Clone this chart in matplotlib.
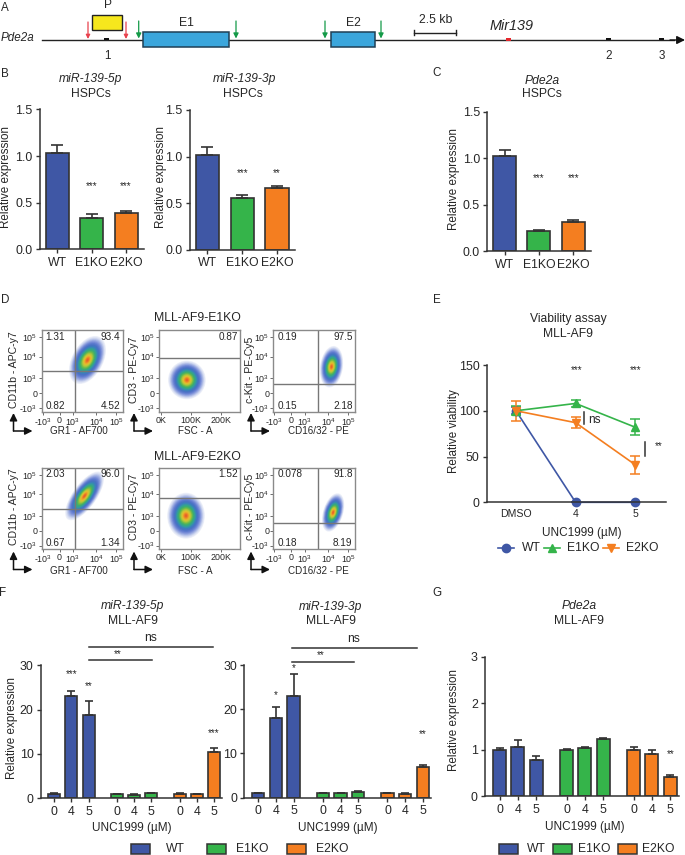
############ Packages ############
import numpy as np
import matplotlib
matplotlib.use("Agg")
import matplotlib.pyplot as plt
from matplotlib.colors import LinearSegmentedColormap
from matplotlib.patches import Ellipse, Rectangle

plt.rcParams['font.family'] = ['Liberation Sans', 'DejaVu Sans']
plt.rcParams['mathtext.fontset'] = 'custom'
plt.rcParams['mathtext.rm'] = 'Liberation Sans'
plt.rcParams['mathtext.default'] = 'regular'

############ Data ############
genotypes = ["WT", "E1KO", "E2KO"]

# panels B and C, HSPCs
b5p_mean = [1.03, 0.34, 0.39]
b5p_err = [0.085, 0.045, 0.025]
b3p_mean = [1.02, 0.56, 0.66]
b3p_err = [0.08, 0.025, 0.03]
c_mean = [1.02, 0.215, 0.32]
c_err = [0.07, 0.01, 0.02]

# panel E, viability
e_doses = ["DMSO", "4", "5"]
e_wt = [100, 0, 0]
e_wt_err = [4, 0, 0]
e_e1 = [100, 108, 82]
e_e1_err = [5, 4, 9]
e_e2 = [100, 87, 41]
e_e2_err = [11, 6, 10]

# panels F and G, WT / E1KO / E2KO at 0, 4, 5 uM
doses = ["0", "4", "5"] * 3
f5p_mean = [1, 23, 18.7, 1, 0.85, 1.1, 1, 0.9, 10.4]
f5p_err = [0.1, 1.3, 3.2, 0.05, 0.05, 0.1, 0.1, 0.05, 0.9]
f3p_mean = [1, 18, 23, 1, 1, 1.3, 1, 0.9, 7]
f3p_err = [0.1, 2.6, 5, 0.1, 0.05, 0.15, 0.1, 0.05, 0.3]
g_mean = [1, 1.06, 0.77, 1, 1.04, 1.24, 1, 0.91, 0.41]
g_err = [0.03, 0.15, 0.09, 0.01, 0.02, 0.02, 0.06, 0.08, 0.05]

# panel D, flow plots: x/y cloud centre, extent and tilt
gate_names = [("CD11b - APC-y7", "GR1 - AF700"), ("CD3 - PE-Cy7", "FSC - A"),
              ("c-Kit - PE-Cy5", "CD16/32 - PE")]
row1_labels = [["1.31", "93.4", "0.82", "4.52"], ["", "0.87", "", ""], ["0.19", "97.5", "0.15", "2.18"]]
row2_labels = [["2.03", "96.0", "0.67", "1.34"], ["", "1.52", "", ""], ["0.078", "91.8", "0.18", "8.19"]]
row1_clouds = [(2.09, 2.22, 3.2, 2.0, 55), (86, 0.89, 112, 2.3, 0), (2.98, 1.77, 2.5, 1.5, 80)]
row2_clouds = [(1.87, 2.33, 3.6, 1.5, 50), (83, 1.0, 112, 2.75, 0), (3.1, 1.22, 2.4, 1.3, 70)]
flow_gates_row1 = [(1.17, 1.5), (None, 2.35), (1.95, 0.62)]
flow_gates_row2 = [(1.17, 1.45), (None, 2.22), (1.95, 0.51)]

biex_x_ticks = [-1.25, 0, 1, 2.74, 4.23]
biex_y_ticks = [-1, 0, 1, 2.45, 3.75]
biex_labels = ["-$10^3$", "0", "$10^3$", "$10^4$", "$10^5$"]
fsc_ticks = [0, 100, 200]
fsc_labels = ["0K", "100K", "200K"]

############ Style ############
BLUE = "#3F57A5"
GREEN = "#35B44A"
ORANGE = "#F47E20"
EDGE = "#333333"
TXT = "#262626"
colors3 = [BLUE, GREEN, ORANGE]
colors9 = [BLUE] * 3 + [GREEN] * 3 + [ORANGE] * 3
group_x = [0, 1, 2, 3.65, 4.65, 5.65, 7.3, 8.3, 9.3]
flow_cmap = LinearSegmentedColormap.from_list(
    "flow", ["#eef1fa", "#d3daf1", "#a9b7e6", "#7f93da", "#5f7bcf", "#4a72c4", "#3a80bc",
             "#33a09a", "#3aad70", "#6cba4a", "#b4c73a", "#e6c02e", "#ef8f28", "#e8622a"])
W, H = 685, 855

fig = plt.figure(figsize=(W / 100, H / 100), dpi=100)
over = fig.add_axes([0, 0, 1, 1], zorder=10)
over.set_xlim(0, W)
over.set_ylim(H, 0)
over.axis("off")
over.patch.set_alpha(0)


def px_axes(left, top, right, bottom):
    return fig.add_axes([left / W, 1 - bottom / H, (right - left) / W, (bottom - top) / H])


def put(x, y, s, size=8.7, **kw):
    kw.setdefault("ha", "center")
    kw.setdefault("va", "center")
    kw.setdefault("color", TXT)
    over.text(x, y, s, fontsize=size, **kw)


def set_xlab(ax, s, xy, size=8.5):
    ax.set_xlabel(s, fontsize=size, color=TXT, va="center")
    ax.xaxis.set_label_coords(xy[0], xy[1], transform=over.transData)


def set_ylab(ax, s, xy, size=8.4):
    ax.set_ylabel(s, fontsize=size, color=TXT, va="center")
    ax.yaxis.set_label_coords(xy[0], xy[1], transform=over.transData)


def clean(ax):
    ax.spines["top"].set_visible(False)
    ax.spines["right"].set_visible(False)
    for s in ["left", "bottom"]:
        ax.spines[s].set_linewidth(1.1)
        ax.spines[s].set_color(EDGE)
    ax.tick_params(length=3.2, width=1.0, color=EDGE, labelsize=8.9, labelcolor=TXT, pad=2)


def star(ax, x, y, s):
    ax.text(x, y, s, ha="center", va="center", fontsize=7, color=TXT, clip_on=False)


def bars3(box, means, errs, ymax_ticks, ylabel_xy, stars):
    ax = px_axes(*box)
    ax.bar(range(3), means, width=0.67, color=colors3, edgecolor=EDGE, linewidth=1.2)
    ax.errorbar(range(3), means, yerr=[np.zeros(3), errs], fmt="none", ecolor=EDGE, elinewidth=1.2, capsize=4.2, capthick=1.2)
    ax.set_xlim(-0.5, 2.52)
    ax.set_ylim(0, 1.5)
    ax.set_yticks(ymax_ticks)
    ax.set_yticklabels(["%.1f" % v for v in ymax_ticks])
    ax.set_xticks(range(3))
    ax.set_xticklabels(genotypes)
    clean(ax)
    ax.tick_params(axis="x", labelsize=8.8)
    set_ylab(ax, "Relative expression", ylabel_xy)
    for x, y, s in stars:
        star(ax, x, y, s)
    return ax


def bars9(box, means, errs, ylim, yticks, ylabel_xy, xlabel_xy, stars):
    ax = px_axes(*box)
    ax.bar(group_x, means, width=0.7, color=colors9, edgecolor=EDGE, linewidth=1.2)
    ax.errorbar(group_x, means, yerr=[np.zeros(9), errs], fmt="none", ecolor=EDGE, elinewidth=1.2, capsize=3, capthick=1.2)
    ax.set_xlim(-0.79, 9.76)
    ax.set_ylim(0, ylim)
    ax.set_yticks(yticks)
    ax.set_xticks(group_x)
    ax.set_xticklabels(doses)
    clean(ax)
    set_xlab(ax, "UNC1999 (µM)", xlabel_xy)
    if ylabel_xy is not None:
        set_ylab(ax, "Relative expression", ylabel_xy)
    for x, y, s in stars:
        star(ax, x, y, s)
    return ax


def flow_panel(box, kind, cloud, labels, gate, names, ylabel_xy, xlabel_xy):
    ax = px_axes(*box)
    if kind == "fsc":
        ax.set_xlim(-7, 263)
        ax.set_xticks(fsc_ticks)
        ax.set_xticklabels(fsc_labels)
    else:
        ax.set_xlim(-1.33, 4.72)
        ax.set_xticks(biex_x_ticks)
        ax.set_xticklabels(biex_labels)
    ax.set_ylim(-1.23, 4.22)
    ax.set_yticks(biex_y_ticks)
    ax.set_yticklabels(biex_labels)
    # nested shells instead of the single events of the cytometer
    cx, cy, w, h, tilt = cloud
    shells = np.linspace(1.12, 0.06, 30)
    for n, sc in enumerate(shells):
        ax.add_patch(Ellipse((cx, cy), w * sc, h * sc, angle=tilt,
                             facecolor=flow_cmap(n / (len(shells) - 1)), edgecolor="none"))
    gx, gy = gate
    if gx is not None:
        ax.axvline(gx, color="#777777", lw=1.0)
    ax.axhline(gy, color="#777777", lw=1.0)
    for s in ax.spines.values():
        s.set_color("#8a8a8a")
        s.set_linewidth(1.0)
    ax.tick_params(length=2, width=0.6, color="#555555", labelsize=6.4, labelcolor=TXT, pad=1)
    spots = [(0.05, 0.92, "left"), (0.97, 0.92, "right"), (0.05, 0.07, "left"), (0.97, 0.07, "right")]
    for (tx, ty, ha), s in zip(spots, labels):
        ax.text(tx, ty, s, transform=ax.transAxes, ha=ha, va="center", fontsize=7.2, color=TXT)
    set_ylab(ax, names[0], ylabel_xy, size=7.6)
    set_xlab(ax, names[1], xlabel_xy, size=7.1)
    return ax


def corner_arrows(x, y):
    for tip in [(x, y - 18), (x + 19, y)]:
        over.annotate("", xy=tip, xytext=(x, y),
                      arrowprops=dict(arrowstyle="-|>", color="#111111", lw=1.1, mutation_scale=11,
                                      shrinkA=0, shrinkB=0))


############ Panel A, gene model ############
over.plot([42, 674], [40, 40], color="#222222", lw=1.0)
over.annotate("", xy=(685, 40), xytext=(670, 40),
              arrowprops=dict(arrowstyle="-|>", color="#111111", lw=1, mutation_scale=12, shrinkA=0, shrinkB=0))
for x0, x1, name in [(143, 229, "E1"), (331, 375.5, "E2")]:
    over.add_patch(Rectangle((x0, 32.5), x1 - x0, 15, facecolor="#3BA6DC", edgecolor="#1f3f55", lw=1.1, zorder=3))
    put((x0 + x1) / 2, 22.5, name, size=8.8)
over.add_patch(Rectangle((92, 15), 30, 15, facecolor="#F6E71D", edgecolor="#222222", lw=1))
put(108, 5, "P", size=8.6)
for x in [88, 126]:
    over.annotate("", xy=(x, 39), xytext=(x, 22), arrowprops=dict(arrowstyle="-|>", color="#E8414D", lw=0.9, mutation_scale=6, shrinkA=0, shrinkB=0))
for x in [138.7, 236, 325, 381]:
    over.annotate("", xy=(x, 38.5), xytext=(x, 21), arrowprops=dict(arrowstyle="-|>", color="#149A48", lw=0.9, mutation_scale=7.5, shrinkA=0, shrinkB=0))
for x, name in [(107, "1"), (609, "2"), (662, "3")]:
    over.add_patch(Rectangle((x - 2.5, 38), 5, 2.5, facecolor="#111111", edgecolor="none", zorder=3))
    put(x, 56, name, size=8.4)
over.add_patch(Rectangle((506, 38.5), 5, 3, facecolor="#E5262B", edgecolor="none", zorder=3))
over.plot([414, 456], [33, 33], color="#222222", lw=1)
for x in [414, 456]:
    over.plot([x, x], [30.5, 35.5], color="#222222", lw=1)
put(436, 20, "2.5 kb", size=8.8)
put(512, 26, "Mir139", size=10.4, style="italic")
put(18, 38, "Pde2a", size=8.4, style="italic")

############ Panels B and C ############
yt = [0, 0.5, 1.0, 1.5]
bars3((40, 109.5, 144, 249.5), b5p_mean, b5p_err, yt, (6, 177), [(1, 0.68, "***"), (2, 0.68, "***")])
bars3((190, 110, 295, 250), b3p_mean, b3p_err, yt, (161, 177), [(1, 0.82, "***"), (2, 0.82, "**")])
bars3((487.3, 111.7, 591.3, 251.3), c_mean, c_err, yt, (454, 179), [(1, 0.785, "***"), (2, 0.785, "***")])
put(90.7, 79, "miR-139-5p", style="italic")
put(90.7, 94, "HSPCs")
put(244, 79, "miR-139-3p", style="italic")
put(243, 94, "HSPCs")
put(541.7, 80.7, "Pde2a", style="italic")
put(541.7, 94, "HSPCs")

############ Panel D, flow plots ############
col_boxes = [(41.7, 122.7), (159, 240), (273.3, 355)]
ylab_x = [14, 134, 250]
xlab_x = [79, 195, 318]
kinds = ["biex", "fsc", "biex"]
arrow_x = [13.5, 134, 251]
for i in range(3):
    flow_panel((col_boxes[i][0], 330, col_boxes[i][1], 411.7), kinds[i], row1_clouds[i], row1_labels[i],
               flow_gates_row1[i], gate_names[i], (ylab_x[i], 370), (xlab_x[i], 431))
    flow_panel((col_boxes[i][0], 467.7, col_boxes[i][1], 549), kinds[i], row2_clouds[i], row2_labels[i],
               flow_gates_row2[i], gate_names[i], (ylab_x[i], 507), (xlab_x[i], 570.5))
    corner_arrows(arrow_x[i], 431)
    corner_arrows(arrow_x[i], 569.5)
put(197, 318, "MLL-AF9-E1KO", size=8.8)
put(197, 457, "MLL-AF9-E2KO", size=8.8)

############ Panel E, viability ############
ax_e = px_axes(486.7, 365, 665.7, 502.3)
for vals, errs, col, mk in [(e_wt, e_wt_err, BLUE, "o"), (e_e1, e_e1_err, GREEN, "^"), (e_e2, e_e2_err, ORANGE, "v")]:
    ax_e.errorbar(range(3), vals, yerr=errs, color=col, marker=mk, ms=6, lw=1.2, capsize=3.5, capthick=1.1, elinewidth=1.1, clip_on=False)
ax_e.set_xlim(-0.49, 2.51)
ax_e.set_ylim(0, 150)
ax_e.set_yticks([0, 50, 100, 150])
ax_e.set_xticks(range(3))
ax_e.set_xticklabels(e_doses)
clean(ax_e)
ax_e.tick_params(axis="x", labelsize=7.6, length=0, pad=5)
set_ylab(ax_e, "Relative viability", (454, 431))
set_xlab(ax_e, "UNC1999 (µM)", (582, 532.5))
star(ax_e, 1.02, 144.5, "***")
star(ax_e, 2.0, 144.5, "***")
ax_e.plot([1.145, 1.145], [86, 99], color=EDGE, lw=1.1)
ax_e.text(1.32, 90, "ns", ha="center", va="center", fontsize=8.6, color=TXT)
ax_e.plot([2.17, 2.17], [51, 66], color=EDGE, lw=1.1, clip_on=False)
star(ax_e, 2.40, 61, "**")
put(568, 319, "Viability assay")
put(568, 334, "MLL-AF9")
for x0, xt, name, col, mk in [(498, 531, "WT", BLUE, "o"), (544, 583, "E1KO", GREEN, "^"), (603, 642.7, "E2KO", ORANGE, "v")]:
    over.plot([x0, x0 + 16], [547.7, 547.7], color=col, lw=1.2)
    over.plot([x0 + 8], [547.7], color=col, marker=mk, ms=6)
    put(xt, 547.7, name)

############ Panels F and G ############
bars9((40.7, 665.3, 222, 798.3), f5p_mean, f5p_err, 30, [0, 10, 20, 30], (12, 728), (132, 827.5),
      [(1, 28, "***"), (2, 25.4, "**"), (9.3, 14.6, "***")])
bars9((244.3, 665, 431, 797.7), f3p_mean, f3p_err, 30, [0, 10, 20, 30], None, (338, 828),
      [(1, 23.3, "*"), (2, 29.3, "*"), (9.3, 14.3, "**")])
bars9((485, 656.7, 678.7, 796.3), g_mean, g_err, 3, [0, 1, 2, 3], (454, 720), (585, 827),
      [(9.3, 0.91, "**")])
for cx, y1, name in [(132.7, 605.7, "miR-139-5p"), (330.7, 607, "miR-139-3p"), (578.7, 605.7, "Pde2a")]:
    put(cx, y1, name, style="italic")
    put(cx, 621, "MLL-AF9")
over.plot([89, 213.3], [646.7, 646.7], color=EDGE, lw=1.1)
put(151, 638, "ns")
over.plot([89, 151.7], [660.3, 660.3], color=EDGE, lw=1.1)
put(118, 654, "**", size=7)
over.plot([291.7, 416.7], [647.7, 647.7], color=EDGE, lw=1.1)
put(354, 639, "ns")
over.plot([291.7, 354], [662, 662], color=EDGE, lw=1.1)
put(321, 655, "**", size=7)
for x0, xt, name, col in [(131, 175.7, "WT", BLUE), (207, 252, "E1KO", GREEN), (287, 332, "E2KO", ORANGE),
                          (499, 536.7, "WT", BLUE), (553, 594, "E1KO", GREEN), (617.7, 658, "E2KO", ORANGE)]:
    over.add_patch(Rectangle((x0, 843.5), 19, 10, facecolor=col, edgecolor=EDGE, lw=1.1))
    put(xt, 848.7, name)

############ Panel letters ############
for x, y, s in [(5, 8, "A"), (5, 74, "B"), (437, 73, "C"), (5, 300, "D"), (437, 300, "E"), (3, 593, "F"), (437, 593, "G")]:
    put(x, y, s, size=8.4)

fig.savefig("out.png", dpi=100)
